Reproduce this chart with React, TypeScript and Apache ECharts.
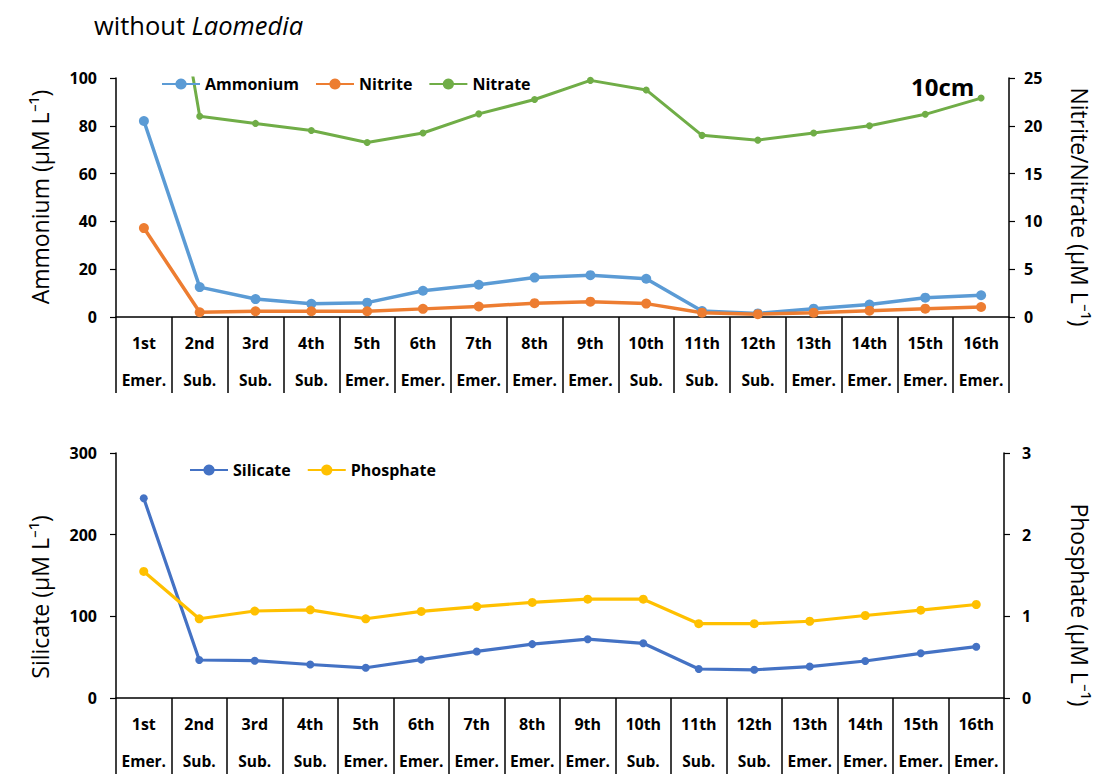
import React, { useEffect, useRef } from "react";
import * as echarts from "echarts";

const categories = ["1st", "2nd", "3rd", "4th", "5th", "6th", "7th", "8th", "9th", "10th", "11th", "12th", "13th", "14th", "15th", "16th"];
const stages = ["Emer.", "Sub.", "Sub.", "Sub.", "Emer.", "Emer.", "Emer.", "Emer.", "Emer.", "Sub.", "Sub.", "Sub.", "Emer.", "Emer.", "Emer.", "Emer."];

const ammonium = [82, 12.5, 7.5, 5.5, 6, 11, 13.5, 16.5, 17.5, 16, 2.5, 1.5, 3.5, 5.2, 8.1, 9.1];
const nitrite = [9.3, 0.5, 0.6, 0.6, 0.6, 0.85, 1.1, 1.45, 1.6, 1.4, 0.45, 0.3, 0.45, 0.66, 0.87, 1.05];
const nitrate = [55, 21, 20.25, 19.5, 18.25, 19.25, 21.25, 22.75, 24.75, 23.75, 19, 18.5, 19.25, 20, 21.2, 22.9];

const silicate = [244.5, 46.5, 45.7, 41, 37, 47, 57, 66, 72, 67, 35.5, 34.5, 38.5, 45.3, 54.7, 62.8];
const phosphate = [1.55, 0.97, 1.065, 1.08, 0.97, 1.06, 1.12, 1.17, 1.21, 1.21, 0.91, 0.91, 0.94, 1.01, 1.075, 1.145];

const FONT = "Open Sans";

function xAxisFor(gridIndex: number) {
  return {
    type: "category",
    gridIndex,
    data: categories,
    boundaryGap: true,
    axisLine: { show: true, lineStyle: { color: "#000", width: 1.5 } },
    axisTick: { show: true, interval: 0, length: 76, lineStyle: { color: "#000", width: 1.5 } },
    axisLabel: {
      interval: 0,
      margin: 7,
      formatter: (v: string, i: number) => `{a|${v}}\n{b|${stages[i]}}`,
      rich: {
        a: { fontFamily: FONT, fontWeight: "bold", fontSize: 16, color: "#000", lineHeight: 37 },
        b: { fontFamily: FONT, fontWeight: "bold", fontSize: 15.5, color: "#000", lineHeight: 37 },
      },
    },
    splitLine: { show: false },
  };
}

function yAxisFor(gridIndex: number, position: string, max: number, interval: number, margin: number) {
  return {
    type: "value",
    gridIndex,
    position,
    min: 0,
    max,
    interval,
    axisLine: { show: true, lineStyle: { color: "#000", width: 1.5 } },
    axisTick: { show: true, length: 6, lineStyle: { color: "#000", width: 1.2 } },
    axisLabel: { fontFamily: FONT, fontWeight: "bold", fontSize: 16, color: "#000", margin },
    splitLine: { show: false },
  };
}

function lineSeries(name: string, data: number[], color: string, xAxisIndex: number, yAxisIndex: number, symbolSize: number, width: number) {
  return {
    name,
    type: "line",
    data,
    xAxisIndex,
    yAxisIndex,
    symbol: "circle",
    symbolSize,
    clip: true,
    itemStyle: { color },
    lineStyle: { color, width },
  };
}

export default function App() {
  const ref = useRef<HTMLDivElement>(null);

  useEffect(() => {
    if (!ref.current) return;
    const chart = echarts.init(ref.current, null, { renderer: "svg" });
    const titleStyle = { fontFamily: FONT, fontSize: 23, fill: "#000" };
    const legendText = { fontFamily: FONT, fontWeight: "bold", fontSize: 16, color: "#000" };
    chart.setOption({
      animation: false,
      backgroundColor: "#fff",
      grid: [
        { left: 116, right: 105, top: 78, height: 239 },
        { left: 116, right: 110, top: 453, height: 245 },
      ],
      xAxis: [xAxisFor(0), xAxisFor(1)],
      yAxis: [
        yAxisFor(0, "left", 100, 20, 19),
        yAxisFor(0, "right", 25, 5, 15),
        yAxisFor(1, "left", 300, 100, 19),
        yAxisFor(1, "right", 3, 1, 18),
      ],
      legend: [
        {
          data: ["Ammonium", "Nitrite", "Nitrate"],
          left: 156,
          top: 71,
          itemWidth: 38,
          itemHeight: 14,
          itemGap: 16,
          textStyle: legendText,
        },
        {
          data: ["Silicate", "Phosphate"],
          left: 184,
          top: 457,
          itemWidth: 38,
          itemHeight: 14,
          itemGap: 16,
          textStyle: legendText,
        },
      ],
      series: [
        lineSeries("Ammonium", ammonium, "#5B9BD5", 0, 0, 10, 3.5),
        lineSeries("Nitrite", nitrite, "#ED7D31", 0, 1, 10, 3.5),
        lineSeries("Nitrate", nitrate, "#70AD47", 0, 1, 7, 3),
        lineSeries("Silicate", silicate, "#4472C4", 1, 2, 8, 3.2),
        lineSeries("Phosphate", phosphate, "#FFC000", 1, 3, 9, 3.2),
      ],
      graphic: [
        {
          type: "text",
          x: 94,
          y: 25,
          style: {
            text: "{n|without }{i|Laomedia}",
            verticalAlign: "middle",
            rich: {
              n: { fontFamily: FONT, fontSize: 25.5, fill: "#000" },
              i: { fontFamily: FONT, fontSize: 25.5, fontStyle: "italic", fill: "#000" },
            },
          },
        },
        {
          type: "text",
          x: 911,
          y: 86,
          style: { text: "10cm", fontFamily: FONT, fontSize: 24, fontWeight: "bold", fill: "#000", verticalAlign: "middle" },
        },
        {
          type: "text",
          x: 40,
          y: 197,
          rotation: Math.PI / 2,
          style: { ...titleStyle, text: "Ammonium (μM L⁻¹)", align: "center", verticalAlign: "middle" },
        },
        {
          type: "text",
          x: 1080,
          y: 207,
          rotation: -Math.PI / 2,
          style: { ...titleStyle, text: "Nitrite/Nitrate (μM L⁻¹)", align: "center", verticalAlign: "middle" },
        },
        {
          type: "text",
          x: 40,
          y: 597,
          rotation: Math.PI / 2,
          style: { ...titleStyle, text: "Silicate (μM L⁻¹)", align: "center", verticalAlign: "middle" },
        },
        {
          type: "text",
          x: 1080,
          y: 605,
          rotation: -Math.PI / 2,
          style: { ...titleStyle, text: "Phosphate (μM L⁻¹)", align: "center", verticalAlign: "middle" },
        },
      ],
    });
    return () => chart.dispose();
  }, []);

  return (
    <div
      ref={ref}
      style={{ position: "fixed", left: 0, top: 0, width: 1114, height: 781, background: "#fff" }}
    />
  );
}
